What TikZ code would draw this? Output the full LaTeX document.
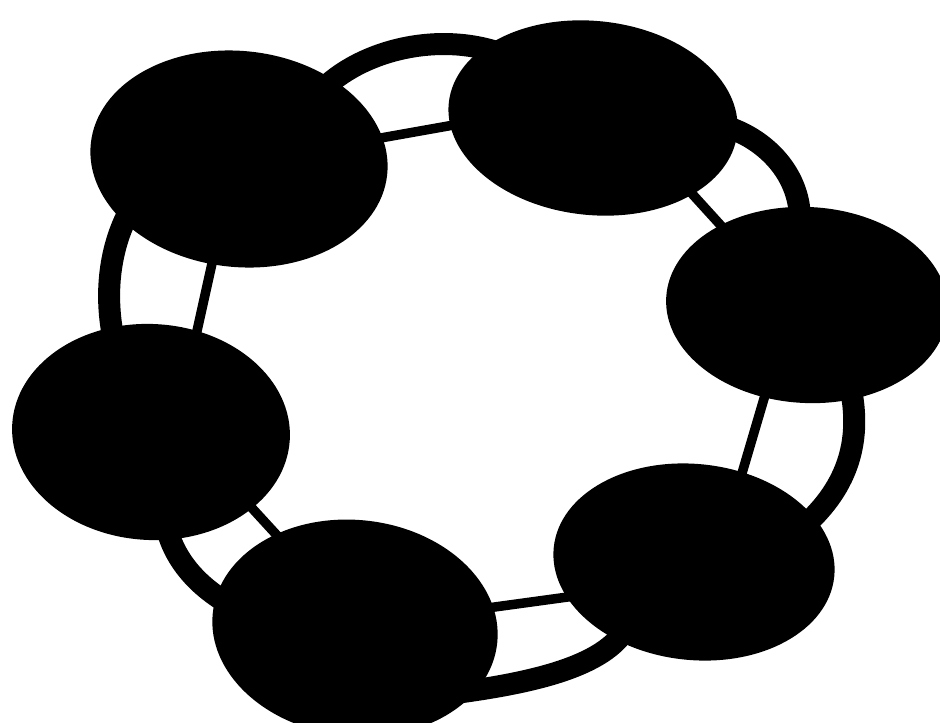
\documentclass[tikz,border=0pt]{standalone}
\usetikzlibrary{shapes.geometric}
\begin{document}
\begin{tikzpicture}[x=1pt,y=-1pt,
  blob/.style={ellipse,fill=black,draw=none,inner sep=0pt,outer sep=0pt},
  band/.style={line width=22pt,black},
  rod/.style={line width=9.5pt,black}]
\useasboundingbox (0,0) rectangle (940,723);
\fill[white] (0,0) rectangle (940,723);
% ellipses
\node[blob,minimum width=298pt,minimum height=216pt,rotate=-6] (e1) at (239,159) {};
\node[blob,minimum width=290pt,minimum height=194pt,rotate=-6] (e2) at (593,118) {};
\node[blob,minimum width=282pt,minimum height=196pt,rotate=-3] (e3) at (807,305) {};
\node[blob,minimum width=282pt,minimum height=196pt,rotate=-6] (e4) at (694,562) {};
\node[blob,minimum width=286pt,minimum height=216pt,rotate=-6] (e5) at (355,628) {};
\node[blob,minimum width=278pt,minimum height=216pt,rotate=-3] (e6) at (151,432) {};
% outer bands
\draw[band] ([shift={(81,-67)}]e1.center) .. controls (360,50) and (440,30) .. ([shift={(-88,-63)}]e2.center);
\draw[band] ([shift={(127,7)}]e2.center) .. controls (760,135) and (800,170) .. ([shift={(-7,-85)}]e3.center);
\draw[band] ([shift={(43,80)}]e3.center) .. controls (860,430) and (855,480) .. ([shift={(111,-37)}]e4.center);
\draw[band] ([shift={(-69,68)}]e4.center) .. controls (600,670) and (520,685) .. ([shift={(85,67)}]e5.center);
\draw[band] ([shift={(-115,-18)}]e5.center) .. controls (200,590) and (172,560) .. ([shift={(14,88)}]e6.center);
\draw[band] ([shift={(-36,-87)}]e6.center) .. controls (104,300) and (108,250) .. ([shift={(-109,51)}]e1.center);
% inner rods
\draw[rod] ([shift={(136,-20)}]e1.center) -- ([shift={(-128,5)}]e2.center);
\draw[rod] ([shift={(92,68)}]e2.center) -- ([shift={(-82,-75)}]e3.center);
\draw[rod] ([shift={(-39,80)}]e3.center) -- ([shift={(46,-82)}]e4.center);
\draw[rod] ([shift={(-119,34)}]e4.center) -- ([shift={(125,-19)}]e5.center);
\draw[rod] ([shift={(-60,-73)}]e5.center) -- ([shift={(89,63)}]e6.center);
\draw[rod] ([shift={(44,-92)}]e6.center) -- ([shift={(-24,91)}]e1.center);
\end{tikzpicture}
\end{document}
